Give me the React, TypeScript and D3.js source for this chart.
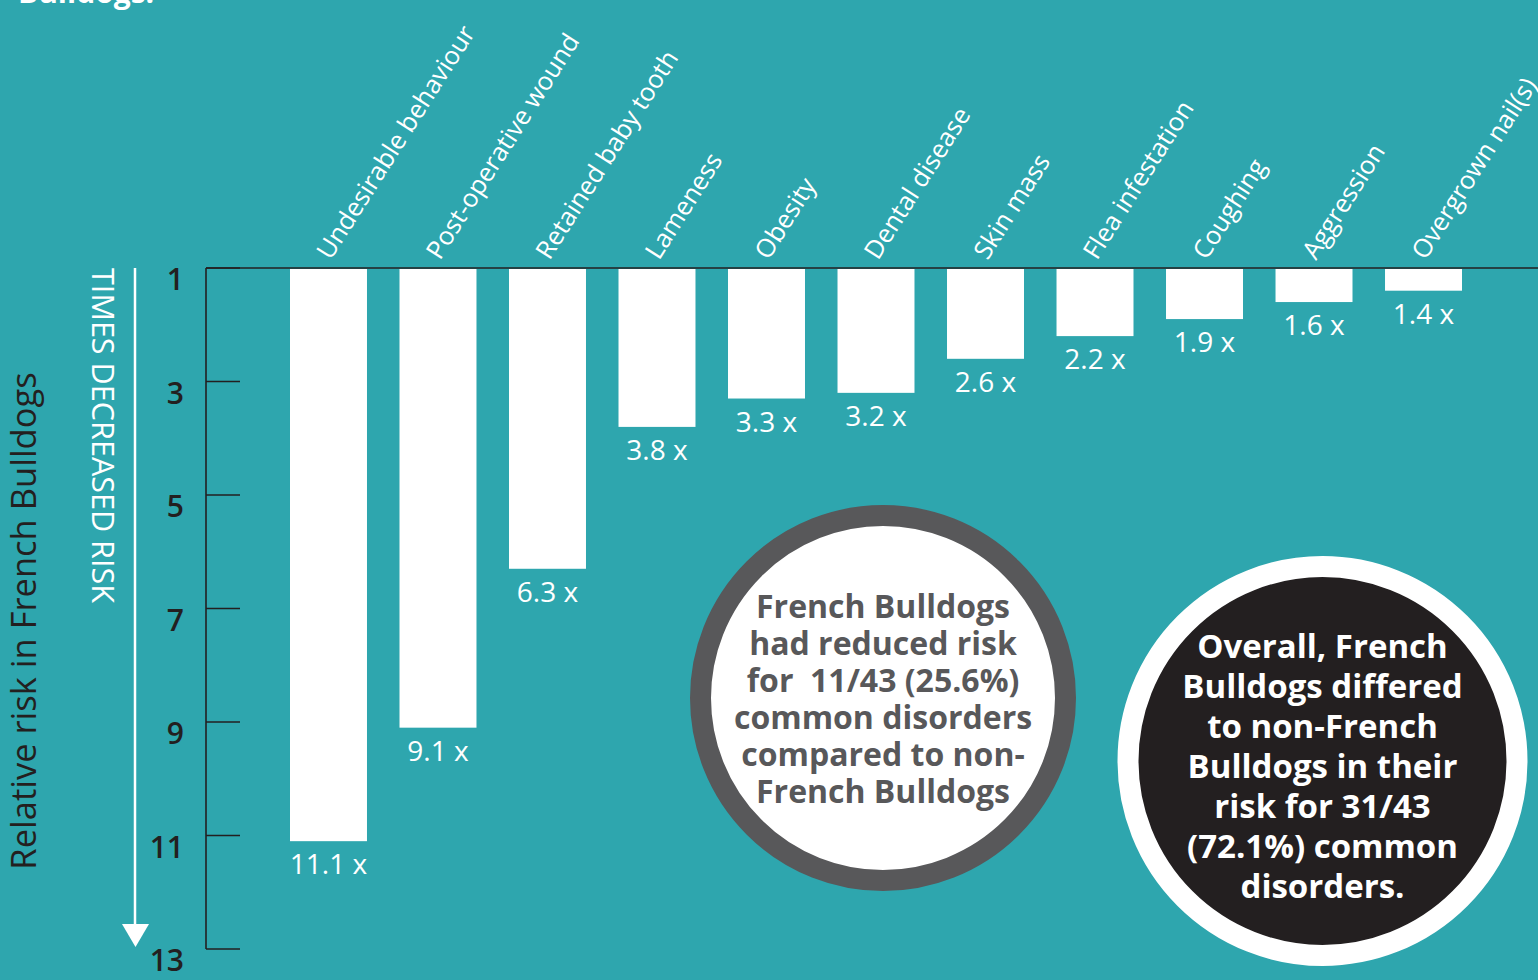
import React from "react";
import * as d3 from "d3";

const categories = [
  "Undesirable behaviour",
  "Post-operative wound",
  "Retained baby tooth",
  "Lameness",
  "Obesity",
  "Dental disease",
  "Skin mass",
  "Flea infestation",
  "Coughing",
  "Aggression",
  "Overgrown nail(s)",
];
const values = [11.1, 9.1, 6.3, 3.8, 3.3, 3.2, 2.6, 2.2, 1.9, 1.6, 1.4];
const yTicks = [1, 3, 5, 7, 9, 11, 13];
const greyCircleLines = [
  "French Bulldogs",
  "had reduced risk",
  "for  11/43 (25.6%)",
  "common disorders",
  "compared to non-",
  "French Bulldogs",
];
const blackCircleLines = [
  "Overall, French",
  "Bulldogs differed",
  "to non-French",
  "Bulldogs in their",
  "risk for 31/43",
  "(72.1%) common",
  "disorders.",
];

const W = 1538;
const H = 980;
const TEAL = "#2ea6ae";
const DARK = "#231f20";
const GREY = "#58585a";
const FONT = "'Open Sans', 'Noto Sans', sans-serif";

export default function App() {
  const y = d3.scaleLinear().domain([1, 13]).range([268, 949]);
  const x = d3
    .scaleBand<string>()
    .domain(categories)
    .range([290, 1462])
    .paddingInner(0.297)
    .paddingOuter(0);
  const bw = x.bandwidth();
  const axisX = 206;

  return (
    <svg
      width={W}
      height={H}
      style={{ position: "absolute", left: 0, top: 0, display: "block" }}
      fontFamily={FONT}
    >
      <rect x={0} y={0} width={W} height={H} fill={TEAL} />

      {/* cut-off heading */}
      <text x={18} y={3} fill="#fff" fontSize={30} fontWeight={700}>
        Bulldogs.
      </text>

      {/* baseline and axis */}
      <line x1={axisX} x2={W} y1={y(1)} y2={y(1)} stroke={DARK} strokeWidth={1.6} />
      <line x1={axisX} x2={axisX} y1={y(1)} y2={y(13)} stroke={DARK} strokeWidth={1.6} />
      {yTicks.map((t) => (
        <g key={t}>
          <line x1={axisX} x2={240} y1={y(t)} y2={y(t)} stroke={DARK} strokeWidth={1.6} />
          <text
            x={184}
            y={y(t) + 22}
            textAnchor="end"
            fill={DARK}
            fontSize={30}
            fontWeight={600}
          >
            {t}
          </text>
        </g>
      ))}

      {/* bars */}
      {categories.map((c, i) => (
        <rect
          key={c}
          x={x(c)}
          y={y(1) + 1}
          width={bw}
          height={y(values[i]) - y(1) - 1}
          fill="#fff"
        />
      ))}

      {/* value labels */}
      {categories.map((c, i) => (
        <text
          key={c}
          x={(x(c) as number) + bw / 2}
          y={y(values[i]) + 33}
          textAnchor="middle"
          fill="#fff"
          fontSize={28}
        >
          {values[i].toFixed(1) + " x"}
        </text>
      ))}

      {/* category labels */}
      {categories.map((c) => (
        <text
          key={c}
          transform={`translate(${(x(c) as number) + bw / 2 + 2},${261}) rotate(-57.5)`}
          fill="#fff"
          fontSize={25.5}
        >
          {c}
        </text>
      ))}

      {/* arrow */}
      <line x1={135} x2={135} y1={y(1)} y2={928} stroke="#fff" strokeWidth={2.5} />
      <path d={`M122,924 L149,924 L135.5,947 Z`} fill="#fff" />

      {/* axis titles */}
      <text
        transform={`translate(92,268) rotate(90)`}
        fill="#fff"
        fontSize={31}
        textLength={335}
        lengthAdjust="spacingAndGlyphs"
      >
        TIMES DECREASED RISK
      </text>
      <text
        transform={`translate(36,621) rotate(-90)`}
        textAnchor="middle"
        fill={DARK}
        fontSize={34.5}
      >
        Relative risk in French Bulldogs
      </text>

      {/* grey circle */}
      <circle cx={883} cy={698} r={182.5} fill="#fff" stroke={GREY} strokeWidth={21} />
      {greyCircleLines.map((l, i) => (
        <text
          key={i}
          x={883}
          y={618 + i * 37}
          textAnchor="middle"
          fill={GREY}
          fontSize={32}
          fontWeight={700}
          style={{ whiteSpace: "pre" }}
        >
          {l}
        </text>
      ))}

      {/* black circle */}
      <circle cx={1322.5} cy={761} r={194.5} fill={DARK} stroke="#fff" strokeWidth={21} />
      {blackCircleLines.map((l, i) => (
        <text
          key={i}
          x={1322.5}
          y={658 + i * 40}
          textAnchor="middle"
          fill="#fff"
          fontSize={33}
          fontWeight={700}
        >
          {l}
        </text>
      ))}
    </svg>
  );
}
